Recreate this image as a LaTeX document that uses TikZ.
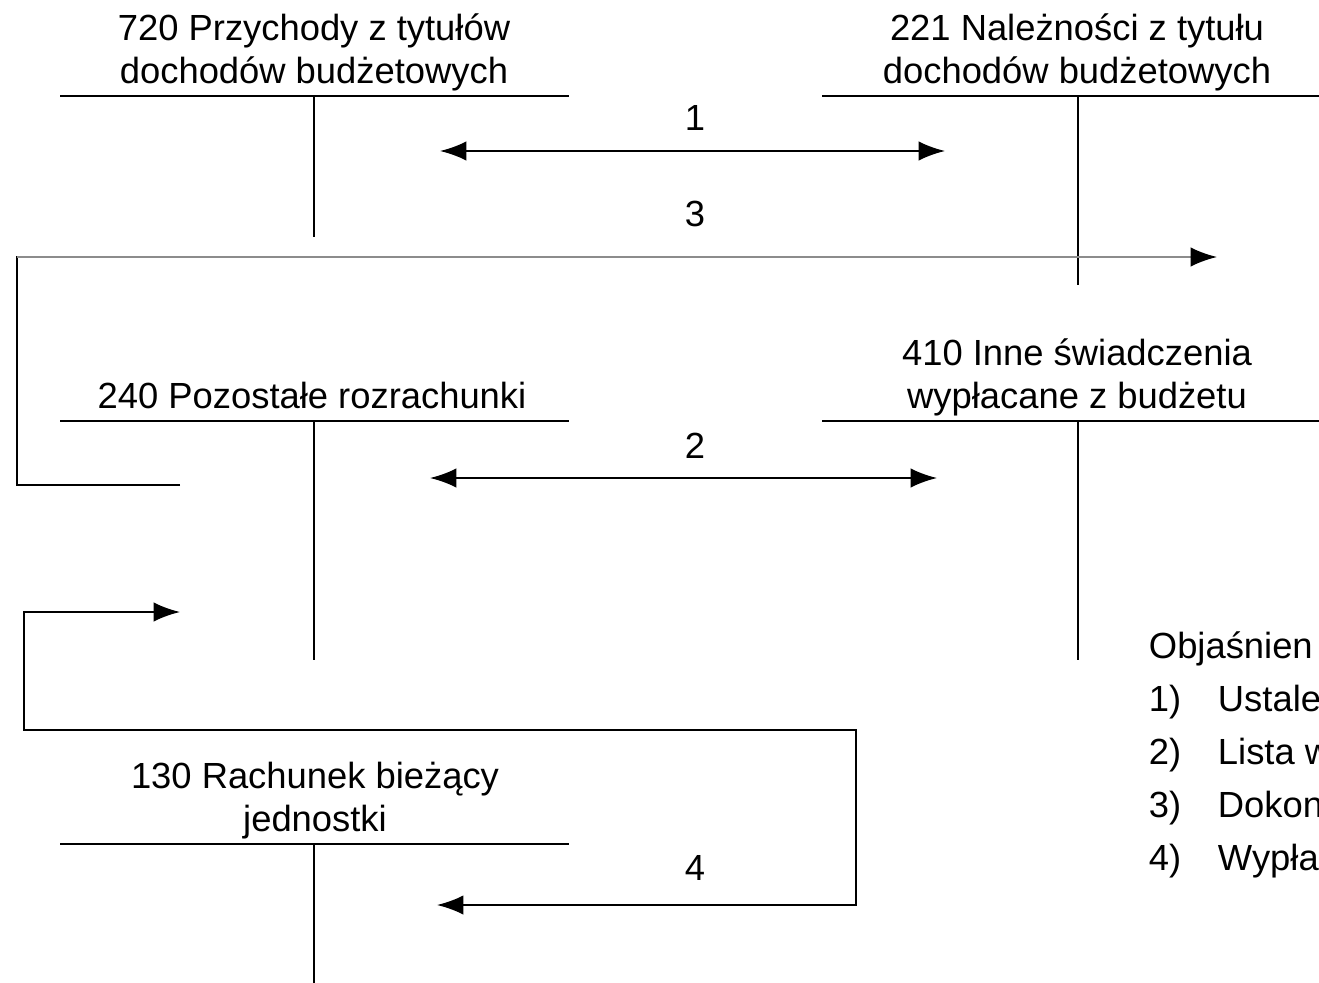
\documentclass[tikz,border=0pt]{standalone}
\usepackage{fontspec}
\setmainfont{Liberation Sans}
\usetikzlibrary{arrows.meta,positioning}

\begin{document}
\begin{tikzpicture}[x=0.02cm,y=-0.02cm,line width=1.1pt,
    every node/.style={font=\fontsize{20.7}{24}\selectfont,inner sep=0pt},
    title/.style={anchor=south,align=center,text depth=0pt},
    num/.style={anchor=base},
    arr/.style={>={Latex[length=15pt,width=11pt]}},
    faint/.style={draw=black!45}]
    \useasboundingbox (0,0) rectangle (1319,983);
    \clip (0,0) rectangle (1319,983);
    % konta
    \node[title] (t720) at (314,84) {720 Przychody z tytułów\\dochodów budżetowych};
    \node[title] (t221) at (1077,84) {221 Należności z tytułu\\dochodów budżetowych};
    \node[title] (t240) at (312,409) {240 Pozostałe rozrachunki};
    \node[title] (t410) at (1077,409) {410 Inne świadczenia\\wypłacane z budżetu};
    \node[title] (t130) at (315,832) {130 Rachunek bieżący\\jednostki};
    \draw (60,96) -- (569,96) (314,96) -- (314,237);
    \draw (822,96) -- (1319,96) (1078,96) -- (1078,285);
    \draw (60,421) -- (569,421) (314,421) -- (314,660);
    \draw (822,421) -- (1319,421) (1078,421) -- (1078,660);
    \draw (60,844) -- (569,844) (314,844) -- (314,983);
    % operacje
    \coordinate (a1l) at (440,151);
    \coordinate (a1r) at (945,151);
    \coordinate (a2l) at (430,478);
    \coordinate (a2r) at (937,478);
    \coordinate (a3s) at (180,485);
    \coordinate (a3c) at (17,485);
    \coordinate (a3t) at (17,257);
    \coordinate (a3e) at (1217,257);
    \coordinate (a4s) at (180,612);
    \coordinate (a4c) at (24,612);
    \coordinate (a4d) at (24,730);
    \coordinate (a4f) at (856,730);
    \coordinate (a4g) at (856,905);
    \coordinate (a4e) at (437,905);
    \draw[arr,<->] (a1l) -- (a1r);
    \draw[arr,<->] (a2l) -- (a2r);
    \draw (a3s) -- (a3c) -- (a3t) -- ++(60,0);
    \draw[faint,-{Latex[length=15pt,width=11pt,black]}] (a3t) -- (a3e);
    \draw[arr,<->] (a4s) -- (a4c) -- (a4d) -- (a4f) -- (a4g) -- (a4e);
    \node[num] (n1) at (695,131) {1};
    \node[num] (n2) at (695,458) {2};
    \node[num] (n3) at (695,227) {3};
    \node[num] (n4) at (695,880) {4};
    % objasnienia
    \node[anchor=base west] (leg) at (1148,658) {Objaśnien};
    \foreach \i/\t in {1/Ustale,2/Lista w,3/Dokon,4/Wypła} {
        \node[anchor=base west] (k\i) at (1148,{658+53*\i}) {\i)};
        \node[anchor=base west] (e\i) at (1217,{658+53*\i}) {\t};
    }
\end{tikzpicture}
\end{document}
